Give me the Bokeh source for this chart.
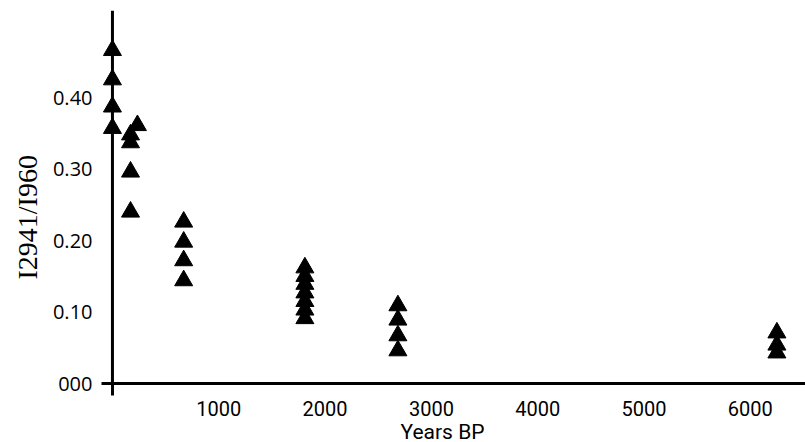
from bokeh.plotting import figure
from bokeh.models import ColumnDataSource, Range1d, FixedTicker, Title
from bokeh.embed import file_html
from bokeh.resources import INLINE

# Data (years BP vs I2941/I960 ratio), grouped by sample cluster
age_a = [0, 0, 0, 0]
ratio_a = [0.466, 0.425, 0.387, 0.357]
age_b = [235, 170, 170, 170, 170]
ratio_b = [0.361, 0.348, 0.337, 0.296, 0.240]
age_c = [670, 670, 670, 670]
ratio_c = [0.226, 0.198, 0.172, 0.144]
age_d = [1810, 1810, 1810, 1810, 1810, 1810, 1810]
ratio_d = [0.162, 0.150, 0.139, 0.127, 0.115, 0.103, 0.091]
age_e = [2685, 2685, 2685, 2685]
ratio_e = [0.109, 0.089, 0.067, 0.046]
age_f = [6250, 6250, 6250]
ratio_f = [0.071, 0.054, 0.043]

x_ticks = [1000, 2000, 3000, 4000, 5000, 6000]
x_tick_labels = ["1000", "2000", "3000", "4000", "5000", "6000"]
y_ticks = [0.0, 0.1, 0.2, 0.3, 0.4]
y_tick_labels = ["000", "0.10", "0.20", "0.30", "0.40"]
x_title = "Years BP"
y_title = "I2941/I960"

ages = age_a + age_b + age_c + age_d + age_e + age_f
ratios = ratio_a + ratio_b + ratio_c + ratio_d + ratio_e + ratio_f
src = ColumnDataSource(dict(x=ages, y=ratios))

X0, X1 = -103, 6519
Y0, Y1 = 0.0, 0.5217

p = figure(width=805, height=442, output_backend="svg", toolbar_location=None,
           x_range=Range1d(X0, X1), y_range=Range1d(Y0, Y1),
           min_border_left=101, min_border_right=0, min_border_top=10,
           min_border_bottom=59)
p.outline_line_color = None
p.xgrid.visible = False
p.ygrid.visible = False
p.background_fill_color = "white"
p.border_fill_color = "white"

# vertical axis line at x = 0
p.segment(x0=[0], y0=[Y0], x1=[0], y1=[Y1], line_color="black", line_width=3)

p.scatter("x", "y", source=src, marker="triangle", size=18,
          fill_color="black", line_color="black")

for ax in (p.xaxis[0], p.yaxis[0]):
    ax.major_tick_line_color = None
    ax.major_tick_out = 0
    ax.major_tick_in = 0
    ax.major_label_text_color = "black"

# horizontal axis: the axis line itself, plus the short downward stub at x = 0
p.xaxis.ticker = FixedTicker(ticks=x_ticks, minor_ticks=[0])
p.xaxis.major_label_overrides = dict(zip(x_ticks, x_tick_labels))
p.xaxis.major_label_text_font = "Roboto"
p.xaxis.major_label_text_font_size = "20px"
p.xaxis.axis_line_color = "black"
p.xaxis.axis_line_width = 3
p.xaxis.minor_tick_line_color = "black"
p.xaxis.minor_tick_line_width = 3
p.xaxis.minor_tick_out = 12
p.xaxis.minor_tick_in = 0
p.xaxis.major_label_standoff = 5

p.yaxis.ticker = FixedTicker(ticks=y_ticks)
p.yaxis.major_label_overrides = dict(zip(y_ticks, y_tick_labels))
p.yaxis.major_label_text_font = "Open Sans"
p.yaxis.major_label_text_font_size = "20px"
p.yaxis.axis_line_color = None
p.yaxis.minor_tick_line_color = None
p.yaxis.major_label_standoff = 9

p.add_layout(Title(text=x_title, text_font="Roboto", text_font_size="21px",
                   text_font_style="normal", text_color="black",
                   align="left", offset=299, standoff=-2), "below")
p.add_layout(Title(text=y_title, text_font="Liberation Serif", text_font_size="28px",
                   text_font_style="normal", text_color="black",
                   align="left", offset=104, standoff=14), "left")

open("out.html", "w").write(file_html(p, INLINE))
